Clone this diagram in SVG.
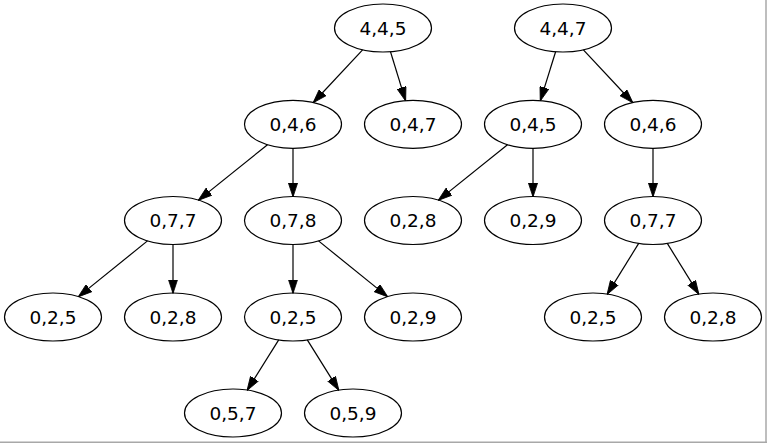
<svg xmlns="http://www.w3.org/2000/svg" width="767" height="443" viewBox="0 0 767 443">
<style>
.n ellipse{fill:none;stroke:#000;stroke-width:1.2}
.n text{font-family:"DejaVu Sans",sans-serif;font-size:18.5px;text-anchor:middle;fill:#000}
#edges line{stroke:#000;stroke-width:1.2;marker-end:url(#ah)}
</style>
<defs>
<marker id="ah" viewBox="0 0 14 10" refX="13.5" refY="5" markerWidth="14" markerHeight="10" markerUnits="userSpaceOnUse" orient="auto">
<path d="M0,0.4 L14,5 L0,9.6 z" fill="#000" stroke="#000" stroke-width="0.8"/>
</marker>
</defs>
<rect width="767" height="443" fill="#fff"/>
<g id="frame" stroke="#a8a8a8" stroke-width="1.5">
<line x1="766" y1="0" x2="766" y2="443"/>
<line x1="0" y1="442.2" x2="767" y2="442.2"/>
</g>
<g id="edges">
<line x1="362.6" y1="49.8" x2="313.4" y2="102.5"/>
<line x1="390.5" y1="51.7" x2="405.5" y2="100.6"/>
<line x1="267.5" y1="144.7" x2="198.5" y2="200.1"/>
<line x1="293" y1="148.3" x2="293" y2="196.5"/>
<line x1="147.5" y1="240.9" x2="78.5" y2="296.6"/>
<line x1="173" y1="244.5" x2="173" y2="293"/>
<line x1="293" y1="244.5" x2="293" y2="293"/>
<line x1="318.5" y1="240.9" x2="387.5" y2="296.6"/>
<line x1="278.7" y1="339.9" x2="247.3" y2="390.1"/>
<line x1="307.3" y1="339.9" x2="338.7" y2="390.1"/>
<line x1="555.6" y1="51.7" x2="540.4" y2="100.6"/>
<line x1="583.4" y1="49.8" x2="632.6" y2="102.5"/>
<line x1="507.5" y1="144.7" x2="438.5" y2="200.1"/>
<line x1="533" y1="148.3" x2="533" y2="196.5"/>
<line x1="653" y1="148.3" x2="653" y2="196.5"/>
<line x1="638.7" y1="243.4" x2="607.3" y2="294.1"/>
<line x1="667.3" y1="243.4" x2="698.7" y2="294.1"/>
</g>
<g id="n1" class="n"><ellipse cx="383" cy="28" rx="48.5" ry="24"/><text x="383" y="34.5">4,4,5</text></g>
<g id="n2" class="n"><ellipse cx="563" cy="28" rx="48.5" ry="24"/><text x="563" y="34.5">4,4,7</text></g>
<g id="n3" class="n"><ellipse cx="293" cy="124.3" rx="48.5" ry="24"/><text x="293" y="130.8">0,4,6</text></g>
<g id="n4" class="n"><ellipse cx="413" cy="124.3" rx="48.5" ry="24"/><text x="413" y="130.8">0,4,7</text></g>
<g id="n5" class="n"><ellipse cx="533" cy="124.3" rx="48.5" ry="24"/><text x="533" y="130.8">0,4,5</text></g>
<g id="n6" class="n"><ellipse cx="653" cy="124.3" rx="48.5" ry="24"/><text x="653" y="130.8">0,4,6</text></g>
<g id="n7" class="n"><ellipse cx="173" cy="220.5" rx="48.5" ry="24"/><text x="173" y="227">0,7,7</text></g>
<g id="n8" class="n"><ellipse cx="293" cy="220.5" rx="48.5" ry="24"/><text x="293" y="227">0,7,8</text></g>
<g id="n9" class="n"><ellipse cx="413" cy="220.5" rx="48.5" ry="24"/><text x="413" y="227">0,2,8</text></g>
<g id="n10" class="n"><ellipse cx="533" cy="220.5" rx="48.5" ry="24"/><text x="533" y="227">0,2,9</text></g>
<g id="n11" class="n"><ellipse cx="653" cy="220.5" rx="48.5" ry="24"/><text x="653" y="227">0,7,7</text></g>
<g id="n12" class="n"><ellipse cx="53" cy="317" rx="48.5" ry="24"/><text x="53" y="323.5">0,2,5</text></g>
<g id="n13" class="n"><ellipse cx="173" cy="317" rx="48.5" ry="24"/><text x="173" y="323.5">0,2,8</text></g>
<g id="n14" class="n"><ellipse cx="293" cy="317" rx="48.5" ry="24"/><text x="293" y="323.5">0,2,5</text></g>
<g id="n15" class="n"><ellipse cx="413" cy="317" rx="48.5" ry="24"/><text x="413" y="323.5">0,2,9</text></g>
<g id="n16" class="n"><ellipse cx="593" cy="317" rx="48.5" ry="24"/><text x="593" y="323.5">0,2,5</text></g>
<g id="n17" class="n"><ellipse cx="713" cy="317" rx="48.5" ry="24"/><text x="713" y="323.5">0,2,8</text></g>
<g id="n18" class="n"><ellipse cx="233" cy="413" rx="48.5" ry="24"/><text x="233" y="419.5">0,5,7</text></g>
<g id="n19" class="n"><ellipse cx="353" cy="413" rx="48.5" ry="24"/><text x="353" y="419.5">0,5,9</text></g>
</svg>
